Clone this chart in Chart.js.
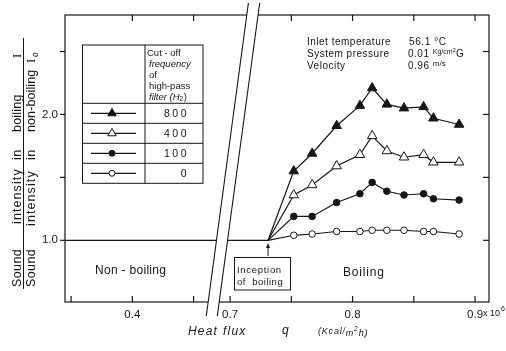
<!DOCTYPE html>
<html><head><meta charset="utf-8">
<script src="https://cdn.jsdelivr.net/npm/chart.js@4/dist/chart.umd.min.js"></script>
<style>html,body{margin:0;padding:0;background:#fff}canvas{display:block}</style>
</head><body>
<canvas id="c" width="506" height="351"></canvas>
<script>
// ---- data (heat flux q in 10^6 Kcal/m2h, ratio I/I0) ----
const heatFlux  = [0.752, 0.767, 0.787, 0.806, 0.816, 0.828, 0.842, 0.858, 0.866, 0.887];
const cutoff800 = [1.55, 1.69, 1.91, 2.07, 2.21, 2.08, 2.05, 2.06, 1.97, 1.92];
const cutoff400 = [1.36, 1.44, 1.59, 1.68, 1.83, 1.71, 1.66, 1.68, 1.62, 1.62];
const cutoff100 = [1.19, 1.19, 1.30, 1.37, 1.46, 1.39, 1.36, 1.37, 1.33, 1.32];
const cutoff0   = [1.04, 1.05, 1.07, 1.07, 1.08, 1.08, 1.08, 1.07, 1.07, 1.05];
const seriesNames = ['800', '400', '100', '0'];
const inceptionQ = 0.731;
const nonBoilingRatio = 1.0;
const nonBoilingStartQ = 0.345;
// axis ticks (left part of the broken axis, right part)
const xTicksLow = [0.35, 0.40, 0.45];
const xTickLabelsLow = ['', '0.4', ''];
const xTicksHigh = [0.70, 0.75, 0.80, 0.85, 0.90];
const xTickLabelsHigh = ['0.7', '', '0.8', '', '0.9'];
const xTopTicksQ = [0.40, 0.45, 0.75, 0.80, 0.85, 0.90];
const yTicks = [1.0, 1.5, 2.0, 2.5];
const yTickLabels = ['1.0', '', '2.0', ''];

// ---- broken axis: low part is shifted next to the high part ----
const BREAK_SHIFT = 0.2202;
const disp = q => (q < 0.6 ? q + BREAK_SHIFT : q);
const X_MIN = disp(nonBoilingStartQ), X_MAX = 0.9114;
const Y_MIN = 0.51, Y_MAX = 2.79;

const INK = '#161616';
const FONT = '"Liberation Sans", Arial, sans-serif';

const xTickValues = [...xTicksLow.map(disp), ...xTicksHigh];
const xTickLabels = [...xTickLabelsLow, ...xTickLabelsHigh];

const styles = [
  {pointStyle: 'triangle', r: 5.5, fill: INK},
  {pointStyle: 'triangle', r: 5.5, fill: '#fff'},
  {pointStyle: 'circle', r: 3.3, fill: INK},
  {pointStyle: 'circle', r: 3.3, fill: '#fff'}
];
const seriesValues = [cutoff800, cutoff400, cutoff100, cutoff0];

const datasets = seriesValues.map((vals, k) => ({
  label: seriesNames[k],
  data: [{x: inceptionQ, y: nonBoilingRatio}, ...heatFlux.map((q, i) => ({x: q, y: vals[i]}))],
  showLine: true,
  borderColor: INK,
  borderWidth: 1.2,
  backgroundColor: styles[k].fill,
  pointBackgroundColor: styles[k].fill,
  pointBorderColor: INK,
  pointBorderWidth: 1,
  pointStyle: styles[k].pointStyle,
  pointRadius: c => (c.dataIndex === 0 ? 0 : styles[k].r),
  tension: 0
}));
datasets.push({
  label: 'non-boiling',
  data: [{x: disp(nonBoilingStartQ), y: nonBoilingRatio}, {x: inceptionQ, y: nonBoilingRatio}],
  showLine: true, borderColor: INK, borderWidth: 1.2, pointRadius: 0
});

function txt(ctx, s, x, y, font, opts = {}) {
  ctx.save();
  ctx.font = font;
  ctx.textAlign = opts.align || 'left';
  ctx.textBaseline = opts.baseline || 'middle';
  ctx.letterSpacing = (opts.ls || 0) + 'px';
  ctx.fillText(s, x, y);
  const w = ctx.measureText(s).width;
  ctx.restore();
  return w;
}
function seg(ctx, x1, y1, x2, y2) { ctx.beginPath(); ctx.moveTo(x1, y1); ctx.lineTo(x2, y2); ctx.stroke(); }

const decor = {
  id: 'decor',
  afterDraw(chart) {
    const ctx = chart.ctx, a = chart.chartArea, xs = chart.scales.x, ys = chart.scales.y;
    ctx.save();
    ctx.strokeStyle = INK; ctx.fillStyle = INK; ctx.lineWidth = 1.2;
    // frame
    ctx.strokeRect(a.left, a.top, a.right - a.left, a.bottom - a.top);
    // y ticks: left outward, right inward
    yTicks.forEach(v => {
      const y = ys.getPixelForValue(v);
      seg(ctx, a.left - 5, y, a.left, y);
      seg(ctx, a.right - 6, y, a.right, y);
    });
    // bottom ticks (inward)
    xTickValues.forEach(v => { const x = xs.getPixelForValue(v); seg(ctx, x, a.bottom, x, a.bottom - 6); });
    // top ticks (inward)
    xTopTicksQ.forEach(q => { const x = xs.getPixelForValue(disp(q)); seg(ctx, x, a.top, x, a.top + 6); });

    // axis break
    const t = 3, b = 316;
    const L1 = [[248.4, t], [206.3, b]], L2 = [[259.7, t], [217.3, b]];
    ctx.save();
    ctx.fillStyle = '#fff';
    ctx.beginPath();
    ctx.moveTo(L1[0][0], L1[0][1]); ctx.lineTo(L2[0][0], L2[0][1]);
    ctx.lineTo(L2[1][0], L2[1][1]); ctx.lineTo(L1[1][0], L1[1][1]);
    ctx.closePath(); ctx.fill();
    ctx.restore();
    ctx.lineWidth = 1.1;
    seg(ctx, L1[0][0], L1[0][1], L1[1][0], L1[1][1]);
    seg(ctx, L2[0][0], L2[0][1], L2[1][0], L2[1][1]);
    ctx.lineWidth = 1.2;

    // "x 10^6" after last tick label
    const x09 = xs.getPixelForValue(0.90);
    txt(ctx, 'x 10', x09 + 8, 314, '9px ' + FONT);
    txt(ctx, '6', x09 + 26, 309, '7px ' + FONT);

    // x-axis title
    const itf = 'italic 12px ' + FONT;
    txt(ctx, 'Heat', 188, 332, itf, {ls: 1.2});
    txt(ctx, 'flux', 223, 332, itf, {ls: 1.2});
    txt(ctx, 'q', 282, 331, itf);
    const sf = 'italic 9px ' + FONT;
    let w = txt(ctx, '(Kcal/', 318, 331, sf, {ls: 0.8});
    w += txt(ctx, 'm', 318 + w, 333, sf, {ls: 0.8});
    w += txt(ctx, '2', 318 + w, 329, 'italic 6.5px ' + FONT);
    txt(ctx, 'h)', 318 + w + 1, 333, sf, {ls: 0.8});

    // y-axis title (rotated fraction)
    const vword = (s, xb, yb, font, ls = 0) => {
      ctx.save(); ctx.translate(xb, yb); ctx.rotate(-Math.PI / 2);
      ctx.font = font; ctx.textBaseline = 'alphabetic'; ctx.textAlign = 'left';
      ctx.letterSpacing = ls + 'px';
      ctx.fillText(s, 0, 0); ctx.restore();
    };
    const yf = '12.5px ' + FONT;
    vword('Sound', 21, 287, yf, 0.4);
    vword('intensity', 21, 224, yf, 1.1);
    vword('in', 21, 160, yf, 0.4);
    vword('boiling', 21, 132, yf, 0.2);
    vword('I', 21, 58, '12.5px "Liberation Serif", serif');
    vword('Sound', 35, 287, yf, 0.4);
    vword('intensity', 35, 226, yf, 1.1);
    vword('in', 35, 160, yf, 0.4);
    vword('non-boiling', 35, 132, yf, 0.1);
    vword('I', 35, 63, '12.5px "Liberation Serif", serif');
    vword('o', 38, 57, '8.5px ' + FONT);
    ctx.lineWidth = 1;
    seg(ctx, 23.5, 38, 23.5, 289);
    ctx.lineWidth = 1.2;

    // conditions text
    const cf = '10px ' + FONT;
    txt(ctx, 'Inlet temperature', 307, 42, cf, {ls: 0.5});
    txt(ctx, 'System pressure', 307, 54, cf, {ls: 0.5});
    txt(ctx, 'Velocity', 307, 66, cf, {ls: 0.5});
    txt(ctx, '56.1 °C', 409, 42, cf, {ls: 0.6});
    w = txt(ctx, '0.01 ', 408, 54, cf, {ls: 0.5});
    w += txt(ctx, 'Kg/cm', 408 + w, 52, '7px ' + FONT);
    w += txt(ctx, '2', 408 + w, 50, '6px ' + FONT);
    txt(ctx, 'G', 408 + w, 54, cf);
    w = txt(ctx, '0.96 ', 408, 66, cf, {ls: 0.5});
    txt(ctx, 'm/s', 408 + w, 64, '8px ' + FONT);

    // region labels
    txt(ctx, 'Non - boiling', 95, 271, '12px ' + FONT, {ls: 0.3});
    txt(ctx, 'Boiling', 343, 273, '12px ' + FONT, {ls: 0.8});

    // inception box and arrow
    const xi = xs.getPixelForValue(inceptionQ);
    ctx.lineWidth = 1;
    ctx.strokeRect(234.5, 257.5, 56, 32.5);
    txt(ctx, 'Inception', 237, 270, '9.5px ' + FONT, {ls: 0.7});
    txt(ctx, 'of  boiling', 237, 282.5, '9.5px ' + FONT, {ls: 0.5});
    seg(ctx, xi, 256, xi, 246);
    ctx.beginPath(); ctx.moveTo(xi, 243); ctx.lineTo(xi - 2, 248); ctx.lineTo(xi + 2, 248); ctx.closePath(); ctx.fill();

    // legend table
    const L = 82.5, R = 203, D = 145, T = 45, rows = [103.3, 123.3, 143.3, 163.3, 183.3];
    ctx.lineWidth = 1;
    ctx.strokeRect(L, T, R - L, rows[4] - T);
    seg(ctx, D, T, D, rows[4]);
    rows.slice(0, 4).forEach(y => seg(ctx, L, y, R, y));
    const hf = '9.5px ' + FONT, hfi = 'italic 9.5px ' + FONT;
    txt(ctx, 'Cut - off', 147, 53, hf);
    txt(ctx, 'frequency', 149, 64.5, hfi);
    txt(ctx, 'of', 149, 75.5, hf);
    txt(ctx, 'high-pass', 149, 86.5, hf);
    w = txt(ctx, 'filter (H', 149, 97.5, hfi);
    w += txt(ctx, '2', 149 + w, 99.5, '6.5px ' + FONT);
    txt(ctx, ')', 149 + w + 0.5, 97.5, hf);
    seriesNames.forEach((name, k) => {
      const yc = (rows[k] + rows[k + 1]) / 2;
      ctx.lineWidth = 1.2;
      seg(ctx, 91, yc, 136, yc);
      ctx.fillStyle = styles[k].fill; ctx.strokeStyle = INK; ctx.lineWidth = 1;
      Chart.helpers.drawPoint(ctx, {pointStyle: styles[k].pointStyle, radius: styles[k].r * 0.9, borderWidth: 1, rotation: 0}, 112, yc);
      ctx.fillStyle = INK;
      txt(ctx, name, 189, yc + 0.5, '10.5px ' + FONT, {align: 'right', ls: 2.5});
    });
    ctx.restore();
  }
};

new Chart(document.getElementById('c'), {
  type: 'scatter',
  data: {datasets},
  options: {
    responsive: false, animation: false, devicePixelRatio: 1,
    layout: {padding: {top: 15, right: 17, left: 0, bottom: 0}},
    plugins: {legend: {display: false}, tooltip: {enabled: false}},
    scales: {
      x: {
        type: 'linear', min: X_MIN, max: X_MAX,
        grid: {display: false, drawTicks: false}, border: {display: false},
        afterBuildTicks: s => { s.ticks = xTickValues.map(v => ({value: v})); },
        afterFit: s => { s.height = 49; },
        ticks: {autoSkip: false, maxRotation: 0, padding: 6, color: INK,
          font: {family: FONT, size: 11.5},
          callback: (v, i) => xTickLabels[i]}
      },
      y: {
        type: 'linear', min: Y_MIN, max: Y_MAX,
        grid: {display: false, drawTicks: false}, border: {display: false},
        afterBuildTicks: s => { s.ticks = yTicks.map(v => ({value: v})); },
        afterFit: s => { s.width = 65; },
        ticks: {autoSkip: false, padding: 7, color: INK,
          font: {family: FONT, size: 11.5},
          callback: (v, i) => yTickLabels[i]}
      }
    }
  },
  plugins: [decor]
});
</script>
</body></html>
